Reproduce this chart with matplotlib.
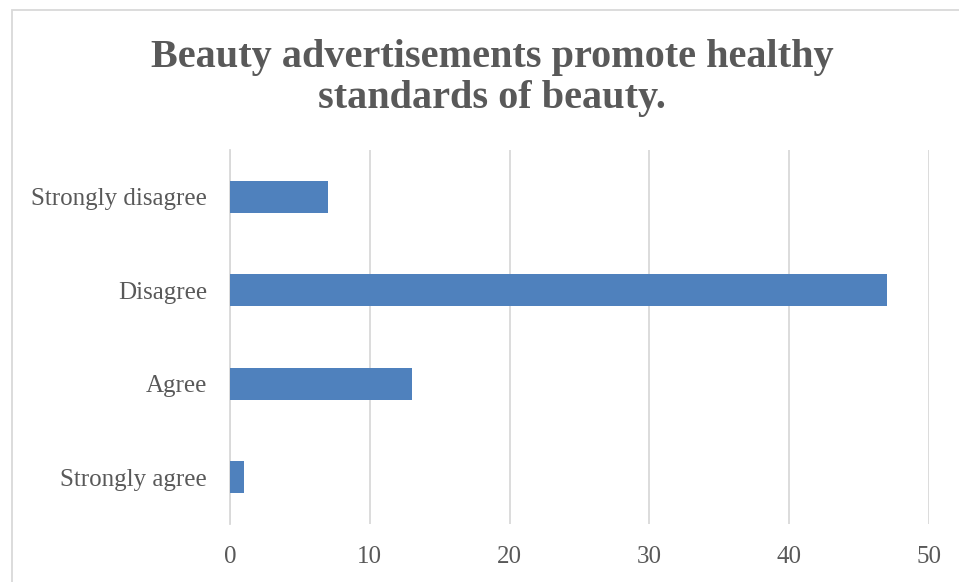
import matplotlib.pyplot as plt
from matplotlib.patches import Rectangle

categories = ['Strongly disagree', 'Disagree', 'Agree', 'Strongly agree']
counts = [7, 47, 13, 1]
xticks = [0, 10, 20, 30, 40, 50]
title = 'Beauty advertisements promote healthy\nstandards of beauty.'

text_color = '#595959'
grid_color = '#d9d9d9'
bar_color = '#4f81bd'

plt.rcParams['font.family'] = ['Liberation Serif', 'DejaVu Serif']

fig = plt.figure(figsize=(9.59, 5.82), dpi=100)
fig.patch.set_facecolor('white')

# chart frame
fig.patches.append(Rectangle((11.5 / 959, -0.1), 1.2, 1 - 9.5 / 582 + 0.1,
                             transform=fig.transFigure, fill=False,
                             edgecolor=grid_color, linewidth=1.3))

ax = fig.add_axes([230 / 959, 1 - 524 / 582, (929 - 230) / 959, (524 - 150) / 582])

ypos = range(len(categories))
ax.barh(ypos, counts, height=0.34, color=bar_color, zorder=3)

ax.set_xlim(0, 50)
ax.set_ylim(len(categories) - 0.5, -0.5)
ax.set_xticks(xticks)
ax.set_yticks(list(ypos))
ax.set_yticklabels(categories)

ax.grid(axis='x', color=grid_color, linewidth=1.3, zorder=0)
for side in ['top', 'right', 'bottom']:
    ax.spines[side].set_visible(False)
ax.spines['left'].set_color(grid_color)
ax.spines['left'].set_linewidth(1.3)

ax.tick_params(axis='both', length=0, labelsize=18, labelcolor=text_color)
ax.tick_params(axis='x', pad=16)
ax.tick_params(axis='y', pad=16.5)

fig.text(492 / 959, 1 - 78 / 582, title, ha='center', va='center', fontsize=29,
         fontweight='bold', color=text_color, linespacing=1.15)

fig.savefig('out.png', dpi=100)
